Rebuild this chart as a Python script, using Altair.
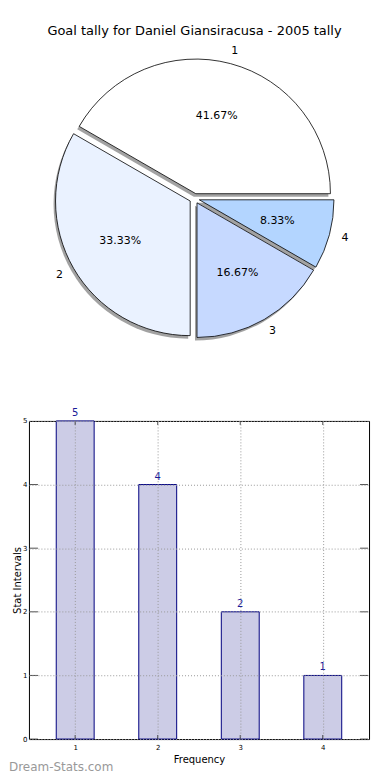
import altair as alt
import pandas as pd

# ---- data ----
categories = ["1", "2", "3", "4"]
order_keys = [1, 2, 3, 4]
counts = [5, 4, 2, 1]
pie_colors = ["#ffffff", "#eaf2ff", "#c6d9ff", "#b3d5ff"]
chart_title = "Goal tally for Daniel Giansiracusa - 2005 tally"
y_tick_values = [0, 1, 2, 3, 4, 5]
x_tick_values = [1, 2, 3, 4]
x_domain = [0.5, 4.5]
y_domain = [0, 5]

df = pd.DataFrame({"cat": categories, "k": order_keys, "n": counts, "color": pie_colors})

# ---- layout constants (pixels) ----
PW, PH = 341, 400          # pie panel
BW, BH = 341, 319          # bar panel
CX, CY = 166, 190          # pie centre inside pie panel
R = 135                    # pie radius
D = 5                      # explode distance
FONT = "DejaVu Sans"

pie_base = (
    alt.Chart(df)
    .transform_joinaggregate(total="sum(n)")
    .transform_window(cum="sum(n)", sort=[alt.SortField("k", order="descending")], frame=[None, 0])
    .transform_calculate(
        t1="PI/2 + 2*PI*datum.cum/datum.total",
        t0="PI/2 + 2*PI*(datum.cum - datum.n)/datum.total",
    )
    .transform_calculate(mid="(datum.t0 + datum.t1)/2")
    .transform_calculate(
        px=f"{CX} + {D}*sin(datum.mid)",
        py=f"{CY} - {D}*cos(datum.mid)",
        sx=f"{CX} - 2 + {D}*sin(datum.mid)",
        sy=f"{CY} + 3 - {D}*cos(datum.mid)",
        lx=f"{CX} + ({D} + 1.12*{R})*sin(datum.mid)",
        ly=f"{CY} - ({D} + 1.1*{R})*cos(datum.mid)",
        tx=f"{CX} + ({D} + 0.6*{R})*sin(datum.mid)",
        ty=f"{CY} - ({D} + 0.6*{R})*cos(datum.mid)",
        pct="format(100*datum.n/datum.total, '.2f') + '%'",
    )
)

shadow = pie_base.mark_arc(outerRadius=R, fill="#555555", opacity=0.55).encode(
    theta=alt.Theta("t0:Q", scale=None),
    theta2="t1:Q",
    x=alt.X("sx:Q", scale=None),
    y=alt.Y("sy:Q", scale=None),
)
slices = pie_base.mark_arc(outerRadius=R, stroke="black", strokeWidth=0.8).encode(
    theta=alt.Theta("t0:Q", scale=None),
    theta2="t1:Q",
    x=alt.X("px:Q", scale=None),
    y=alt.Y("py:Q", scale=None),
    fill=alt.Fill("color:N", scale=None),
)
outer_labels = pie_base.mark_text(fontSize=11, font=FONT, color="black").encode(
    x=alt.X("lx:Q", scale=None), y=alt.Y("ly:Q", scale=None), text="cat:N"
)
pct_labels = pie_base.mark_text(fontSize=11, font=FONT, color="black").encode(
    x=alt.X("tx:Q", scale=None), y=alt.Y("ty:Q", scale=None), text="pct:N"
)
title_mark = alt.Chart(pd.DataFrame({"t": [chart_title]})).mark_text(
    fontSize=13, font=FONT, color="black"
).encode(x=alt.value(CX), y=alt.value(22), text="t:N")

pie = alt.layer(shadow, slices, outer_labels, pct_labels, title_mark).properties(
    width=PW, height=PH, view=alt.ViewBackground(stroke=None)
)

# ---- bar chart ----
xs = alt.Scale(domain=x_domain, nice=False, zero=False)
ys = alt.Scale(domain=y_domain, nice=False)

bar_base = alt.Chart(df)
bars = bar_base.mark_bar(width=38, fill="#ccccE6", stroke="#000080", strokeWidth=1).encode(
    x=alt.X(
        "k:Q",
        scale=xs,
        axis=alt.Axis(
            values=x_tick_values, format="d", title="Frequency", grid=True, gridDash=[1, 2],
            gridColor="#999999", domain=False, ticks=False, labelFontSize=7,
            labelPadding=4, titleFontSize=10, titleFontWeight="normal", titlePadding=4,
            labelFont=FONT, titleFont=FONT, zindex=1, labelColor="black", titleColor="black",
        ),
    ),
    y=alt.Y(
        "n:Q",
        scale=ys,
        axis=alt.Axis(
            values=y_tick_values, format="d", title="Stat Intervals", grid=True, gridDash=[1, 2],
            gridColor="#999999", domain=False, ticks=False, labelFontSize=7,
            labelPadding=2, titleFontSize=10, titleFontWeight="normal", titlePadding=0,
            labelFont=FONT, titleFont=FONT, zindex=1, labelColor="black", titleColor="black",
        ),
    ),
)
bar_text = bar_base.mark_text(
    fontSize=10, font=FONT, color="#1a1a99", baseline="bottom", dy=-3
).encode(x=alt.X("k:Q", scale=xs), y=alt.Y("n:Q", scale=ys), text="n:Q")

# inner tick marks (matplotlib style)
ytick_df = pd.DataFrame(
    [{"edge": e, "v": v} for e in x_domain for v in y_tick_values]
)
xtick_df = pd.DataFrame(
    [{"edge": e, "v": v} for e in y_domain for v in x_tick_values]
)
yticks = alt.Chart(ytick_df).mark_tick(
    orient="horizontal", size=8, thickness=1, color="black", clip=True
).encode(x=alt.X("edge:Q", scale=xs), y=alt.Y("v:Q", scale=ys))
xticks = alt.Chart(xtick_df).mark_tick(
    orient="vertical", size=8, thickness=1, color="black", clip=True
).encode(x=alt.X("v:Q", scale=xs), y=alt.Y("edge:Q", scale=ys))

watermark = alt.Chart(pd.DataFrame({"t": ["Dream-Stats.com"]})).mark_text(
    fontSize=12, font=FONT, color="#999999", align="left", baseline="middle"
).encode(x=alt.value(-20), y=alt.value(BH + 28), text="t:N")

barchart = alt.layer(bars, bar_text, yticks, xticks, watermark).properties(
    width=BW, height=BH, view=alt.ViewBackground(stroke="black", strokeWidth=1)
)

chart = (
    alt.vconcat(pie, barchart, spacing=13, bounds="flush")
    .properties(
        padding={"left": 0, "top": 0, "right": 12, "bottom": 2},
        background="white",
    )
    .configure(font=FONT)
)

chart.save("out.html", embed_options={"renderer": "svg", "actions": False})
